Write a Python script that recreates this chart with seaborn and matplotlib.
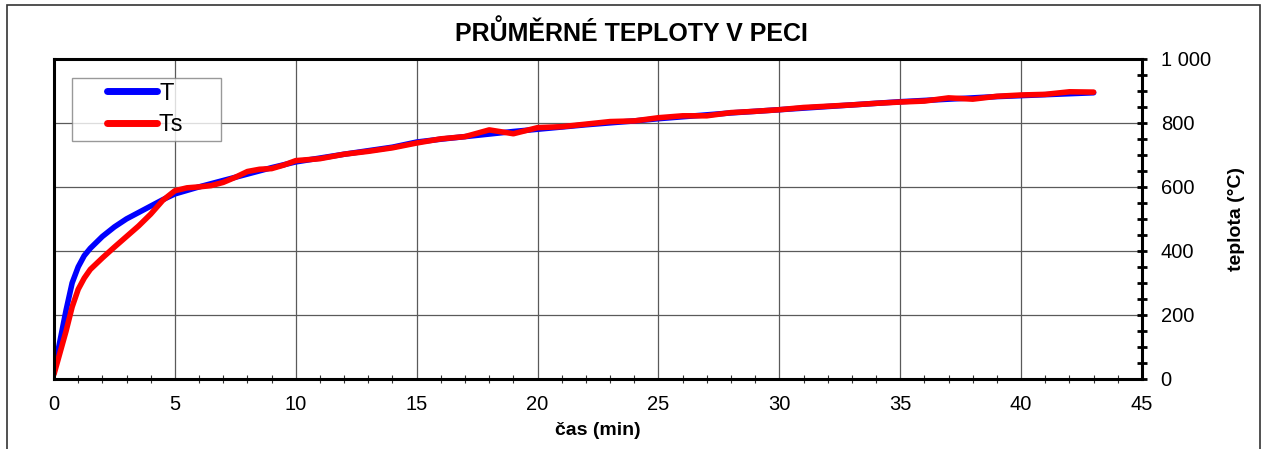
import numpy as np
import pandas as pd
import matplotlib
matplotlib.use("Agg")
import matplotlib.pyplot as plt
import seaborn as sns
from matplotlib.ticker import MultipleLocator, FuncFormatter
from matplotlib.patches import Rectangle
from matplotlib.legend_handler import HandlerLine2D

# data
t_T = [0, 0.5, 0.75, 1, 1.25, 1.5, 2, 2.5, 3, 3.5, 4, 4.5, 5, 6, 7, 8, 9, 10, 11,
       12, 13, 14, 15, 16, 17, 18, 19, 20, 21, 22, 23, 24, 25, 26, 27, 28, 29,
       30, 31, 32, 33, 34, 35, 36, 37, 38, 39, 40, 41, 42, 43]
T = [25, 215, 300, 350, 385, 408, 445, 475, 500, 520, 540, 560, 578, 600, 620,
     640, 660, 678, 690, 702, 713, 724, 740, 749, 757, 765, 773, 780, 787, 794,
     800, 806, 813, 819, 825, 831, 836, 841, 846, 851, 856, 861, 866, 870, 874,
     878, 882, 885, 888, 891, 894]

t_Ts = [0, 0.5, 0.75, 1, 1.25, 1.5, 2, 2.5, 3, 3.5, 4, 4.5, 5, 5.5, 6, 6.5, 7,
        7.5, 8, 8.5, 9, 9.5, 10, 11, 12, 13, 14, 15, 16, 17, 18, 19, 20, 21, 22,
        23, 24, 25, 26, 27, 28, 29, 30, 31, 32, 33, 34, 35, 36, 37, 38, 39, 40,
        41, 42, 43]
Ts = [15, 150, 225, 280, 315, 342, 378, 412, 445, 478, 515, 558, 588, 597, 600,
      604, 614, 630, 648, 655, 657, 668, 682, 688, 702, 711, 722, 737, 750, 757,
      778, 766, 785, 788, 796, 804, 806, 816, 822, 822, 832, 836, 841, 848, 852,
      856, 861, 865, 868, 878, 874, 883, 887, 889, 897, 896]

sns.set_theme(style="white")
plt.rcParams['font.family'] = ['Liberation Sans', 'DejaVu Sans']
plt.rcParams['text.color'] = 'black'
plt.rcParams['axes.labelcolor'] = 'black'
plt.rcParams['xtick.color'] = 'black'
plt.rcParams['ytick.color'] = 'black'

fig = plt.figure(figsize=(12.62, 4.49), dpi=100)
ax = fig.add_axes([0.0428, 0.156, 0.8621, 0.713])

sns.lineplot(x=t_T, y=T, ax=ax, color='#0000ff', lw=4, label='T')
sns.lineplot(x=t_Ts, y=Ts, ax=ax, color='#ff0000', lw=4, label='Ts     ')

ax.set_xlim(0, 45)
ax.set_ylim(0, 1000)
ax.xaxis.set_major_locator(MultipleLocator(5))
ax.xaxis.set_minor_locator(MultipleLocator(1))
ax.yaxis.set_major_locator(MultipleLocator(200))
ax.yaxis.set_minor_locator(MultipleLocator(50))
ax.yaxis.set_major_formatter(FuncFormatter(lambda v, p: f"{int(v):,}".replace(",", " ")))

ax.yaxis.tick_right()
ax.yaxis.set_label_position('right')
ax.grid(True, which='major', color='#5a5a5a', lw=0.9)

for s in ax.spines.values():
    s.set_color('black')
    s.set_linewidth(2.2)

ax.tick_params(axis='x', which='major', direction='inout', length=7, width=1,
               labelsize=14.5, pad=8)
ax.tick_params(axis='x', which='minor', direction='inout', length=6, width=0.8,
               color='#333333', bottom=True)
ax.tick_params(axis='y', which='both', direction='inout', length=7, width=2,
               right=True, left=False)
ax.tick_params(axis='y', which='major', labelsize=14.5, pad=10)

ax.set_xlabel('čas (min)', fontsize=14, fontweight='bold', labelpad=6)
ax.set_ylabel('teplota (°C)', fontsize=14, fontweight='bold', labelpad=12)
fig.text(0.5, 0.926, 'PRŮMĚRNÉ TEPLOTY V PECI', ha='center', va='center',
         fontsize=18, fontweight='bold')

leg = ax.legend(loc='upper left', bbox_to_anchor=(0.0165, 0.94), fontsize=17,
                frameon=True, fancybox=False, handlelength=3.4, handletextpad=0.1,
                borderpad=0.2, labelspacing=0.4, borderaxespad=0,
                handler_map={matplotlib.lines.Line2D: HandlerLine2D(xpad=1.3)})
leg.get_frame().set_edgecolor('#808080')
leg.get_frame().set_linewidth(1)
for line in leg.get_lines():
    line.set_linewidth(5)

fig.add_artist(Rectangle((7 / 1262, -0.1), 1253 / 1262, 1.1 - 5 / 449,
                         transform=fig.transFigure, fill=False,
                         edgecolor='#333333', lw=1.2))

fig.savefig('out.png', dpi=100)
